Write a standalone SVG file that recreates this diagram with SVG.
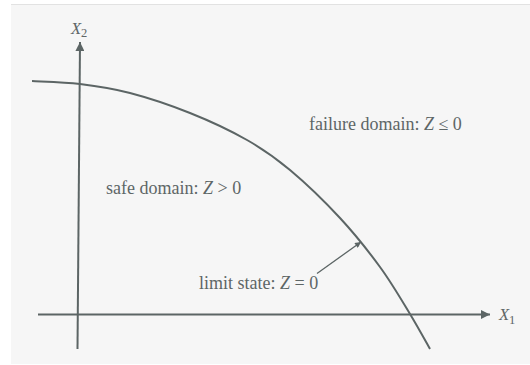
<svg xmlns="http://www.w3.org/2000/svg" width="530" height="365" viewBox="0 0 530 365">
<defs>
<style>
.ln{fill:none;stroke:#5c6565;stroke-width:2}
.lead{fill:none;stroke:#5c6565;stroke-width:1.3}
.t{font-family:"Liberation Serif","Times New Roman",serif;font-size:18px;fill:#5e6666}
.m{font-style:italic}
.ax{font-family:"Liberation Serif","Times New Roman",serif;font-size:16.5px;fill:#5e6666;font-style:italic}
.sub{font-style:normal;font-size:12.5px}
</style>
<marker id="ah" viewBox="0 0 10 10" refX="10" refY="5" markerWidth="10" markerHeight="9" markerUnits="userSpaceOnUse" orient="auto">
<path d="M0,0 L10,5 L0,10 Z" fill="#5c6565"/>
</marker>
<marker id="ahs" viewBox="0 0 10 10" refX="10" refY="5" markerWidth="7" markerHeight="6" markerUnits="userSpaceOnUse" orient="auto">
<path d="M0,0 L10,5 L0,10 Z" fill="#5c6565"/>
</marker>
</defs>
<rect x="0" y="0" width="530" height="365" fill="#ffffff"/>
<rect x="11" y="4" width="519" height="360" fill="#f6f6f6"/>
<line x1="11" y1="4.5" x2="530" y2="4.5" stroke="#e2e2e2" stroke-width="1"/>
<g id="connectors">
<line id="x2-axis" class="ln" x1="77.5" y1="349" x2="80" y2="42" marker-end="url(#ah)"/>
<line id="x1-axis" class="ln" x1="38" y1="314.5" x2="490" y2="314.5" marker-end="url(#ah)"/>
<path id="limit-curve" class="ln" d="M32,81 C40,81.5 63.7,82 80,84 C96.3,86 111.7,88.2 130,93 C148.3,97.8 170.5,105.2 190,113 C209.5,120.8 230.3,130.5 247,140 C263.7,149.5 274.5,157 290,170 C305.5,183 325,201.8 340,218 C355,234.2 368.3,251 380,267 C391.7,283 401.7,300.3 410,314 C418.3,327.7 426.7,343.2 430,349"/>
<line id="leader" class="lead" x1="317" y1="273.5" x2="361" y2="242" marker-end="url(#ahs)"/>
</g>
<g id="label-x2"><text class="ax" x="71" y="33.5">X<tspan class="sub" dy="3.5">2</tspan></text></g>
<g id="label-x1"><text class="ax" x="499" y="320">X<tspan class="sub" dy="4">1</tspan></text></g>
<g id="failure-domain"><text class="t" x="309" y="129.5">failure domain: <tspan class="m">Z</tspan> ≤ 0</text></g>
<g id="safe-domain"><text class="t" x="106" y="194">safe domain: <tspan class="m">Z</tspan> &gt; 0</text></g>
<g id="limit-state"><text class="t" x="199" y="288.5">limit state: <tspan class="m">Z</tspan> = 0</text></g>
</svg>
